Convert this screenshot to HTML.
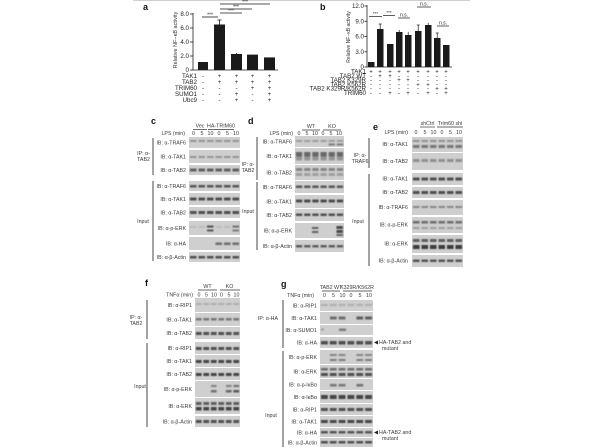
<!DOCTYPE html>
<html><head><meta charset="utf-8"><style>
html,body{margin:0;padding:0;background:#fff;}
svg{display:block;}
text{font-family:"Liberation Sans",Arial,sans-serif;fill:#3a3a3a;}
.l{font-size:5.3px;text-anchor:end;}
.c{font-size:5.3px;text-anchor:middle;}
.s{font-size:6px;text-anchor:middle;fill:#222;}
.t{font-size:6.2px;text-anchor:end;fill:#222;}
.p{font-size:9px;font-weight:bold;fill:#111;}
.bg{fill:#cfcfcf;}
</style></head><body>
<svg width="600" height="447" viewBox="0 0 600 447" xmlns="http://www.w3.org/2000/svg">
<defs>
<filter id="bl" x="-5%" y="-50%" width="110%" height="200%"><feGaussianBlur stdDeviation="0.55"/></filter>
<pattern id="pc" patternUnits="userSpaceOnUse" x="189" y="0" width="8.5" height="1000"><rect x="1" y="0" width="6.5" height="1000" fill="#2e2e2e"/></pattern>
<pattern id="pd" patternUnits="userSpaceOnUse" x="295" y="0" width="8.17" height="1000"><rect x="1" y="0" width="6.2" height="1000" fill="#2e2e2e"/></pattern>
<pattern id="pe" patternUnits="userSpaceOnUse" x="412" y="0" width="8.5" height="1000"><rect x="1" y="0" width="6.5" height="1000" fill="#2e2e2e"/></pattern>
<pattern id="pf" patternUnits="userSpaceOnUse" x="195" y="0" width="7.5" height="1000"><rect x="0.9" y="0" width="5.7" height="1000" fill="#2e2e2e"/></pattern>
<pattern id="pg" patternUnits="userSpaceOnUse" x="320" y="0" width="8.83" height="1000"><rect x="1" y="0" width="6.8" height="1000" fill="#2e2e2e"/></pattern>
</defs>
<rect width="600" height="447" fill="#fff"/>
<line x1="133" y1="0.5" x2="470" y2="0.5" stroke="#d0d0d0" stroke-width="1"/>

<!-- ===== Panel a ===== -->
<text class="p" x="143" y="10">a</text>
<text style="font-size:5.5px;text-anchor:middle;fill:#333" transform="translate(177,40) rotate(-90)">Relative NF−κB activity</text>
<g stroke="#222" stroke-width="0.8">
<line x1="193" y1="13" x2="193" y2="70"/>
<line x1="193" y1="70" x2="278" y2="70"/>
<line x1="190" y1="14" x2="193" y2="14"/><line x1="190" y1="28" x2="193" y2="28"/><line x1="190" y1="42" x2="193" y2="42"/><line x1="190" y1="56" x2="193" y2="56"/><line x1="190" y1="70" x2="193" y2="70"/>
</g>
<text class="t" x="189" y="16">8.0</text><text class="t" x="189" y="30">6.0</text><text class="t" x="189" y="44">4.0</text><text class="t" x="189" y="58">2.0</text><text class="t" x="189" y="72">0</text>
<g fill="#1a1a1a">
<rect x="198" y="62" width="10" height="8"/>
<rect x="214" y="24.5" width="11" height="45.5"/>
<rect x="231" y="54" width="11" height="16"/>
<rect x="247" y="54.6" width="11" height="15.4"/>
<rect x="264" y="57.4" width="11" height="12.6"/>
</g>
<g stroke="#1a1a1a" stroke-width="0.8">
<line x1="219.5" y1="20" x2="219.5" y2="25"/><line x1="217.5" y1="20" x2="221.5" y2="20"/>
<line x1="236.5" y1="53" x2="236.5" y2="54"/>
<line x1="202" y1="17" x2="218" y2="17"/>
<line x1="220" y1="13" x2="242" y2="13"/>
<line x1="220" y1="9" x2="252" y2="9"/>
<line x1="220" y1="4" x2="270" y2="4"/>
</g>
<text class="s" x="210" y="16.5" style="font-size:5px">***</text>
<text class="s" x="231" y="12.5" style="font-size:5px">***</text>
<text class="s" x="236" y="8.5" style="font-size:5px">***</text>
<text class="s" x="245" y="3.5" style="font-size:5px">***</text>
<g class="t" style="font-size:6px">
<text class="t" x="197" y="78">TAK1</text><text class="t" x="197" y="84">TAB2</text><text class="t" x="197" y="90">TRIM60</text><text class="t" x="197" y="96">SUMO1</text><text class="t" x="197" y="102">Ubc9</text>
</g>
<text class="s" x="203" y="78">-</text><text class="s" x="219.5" y="78">+</text><text class="s" x="236.5" y="78">+</text><text class="s" x="252.5" y="78">+</text><text class="s" x="269.5" y="78">+</text>
<text class="s" x="203" y="84">-</text><text class="s" x="219.5" y="84">+</text><text class="s" x="236.5" y="84">+</text><text class="s" x="252.5" y="84">+</text><text class="s" x="269.5" y="84">+</text>
<text class="s" x="203" y="90">-</text><text class="s" x="219.5" y="90">-</text><text class="s" x="236.5" y="90">-</text><text class="s" x="252.5" y="90">+</text><text class="s" x="269.5" y="90">+</text>
<text class="s" x="203" y="96">-</text><text class="s" x="219.5" y="96">-</text><text class="s" x="236.5" y="96">+</text><text class="s" x="252.5" y="96">-</text><text class="s" x="269.5" y="96">+</text>
<text class="s" x="203" y="102">-</text><text class="s" x="219.5" y="102">-</text><text class="s" x="236.5" y="102">+</text><text class="s" x="252.5" y="102">-</text><text class="s" x="269.5" y="102">+</text>

<!-- ===== Panel b ===== -->
<text class="p" x="320" y="10">b</text>
<text style="font-size:5px;text-anchor:middle;fill:#333" transform="translate(350,37) rotate(-90)">Relative NF−κB activity</text>
<g stroke="#222" stroke-width="0.8">
<line x1="367" y1="5" x2="367" y2="67"/>
<line x1="367" y1="67" x2="452" y2="67"/>
<line x1="364.5" y1="6" x2="367" y2="6"/><line x1="364.5" y1="21.3" x2="367" y2="21.3"/><line x1="364.5" y1="36.5" x2="367" y2="36.5"/><line x1="364.5" y1="51.8" x2="367" y2="51.8"/><line x1="364.5" y1="67" x2="367" y2="67"/>
</g>
<g style="font-size:5.6px">
<text class="t" x="364" y="8">12.0</text><text class="t" x="364" y="23.3">9.0</text><text class="t" x="364" y="38.5">6.0</text><text class="t" x="364" y="53.8">3.0</text><text class="t" x="364" y="69">0</text>
</g>
<g fill="#1a1a1a">
<rect x="368" y="62" width="6.5" height="5"/>
<rect x="377" y="29" width="6.5" height="38"/>
<rect x="387" y="44" width="6.5" height="23"/>
<rect x="396" y="32" width="6.5" height="35"/>
<rect x="405" y="35" width="6.5" height="32"/>
<rect x="415" y="31" width="6.5" height="36"/>
<rect x="425" y="25" width="6.5" height="42"/>
<rect x="434" y="38" width="6.5" height="29"/>
<rect x="443" y="45" width="6.5" height="22"/>
</g>
<g stroke="#1a1a1a" stroke-width="0.7">
<line x1="380.2" y1="24" x2="380.2" y2="29"/><line x1="378.7" y1="24" x2="381.7" y2="24"/>
<line x1="399.2" y1="30" x2="399.2" y2="32"/><line x1="408.2" y1="32" x2="408.2" y2="35"/>
<line x1="418.2" y1="25" x2="418.2" y2="31"/><line x1="416.7" y1="25" x2="419.7" y2="25"/>
<line x1="428.2" y1="23" x2="428.2" y2="25"/><line x1="437.2" y1="33" x2="437.2" y2="38"/><line x1="435.7" y1="33" x2="438.7" y2="33"/>
<line x1="369" y1="16.5" x2="382" y2="16.5"/>
<line x1="383" y1="15.5" x2="395" y2="15.5"/>
<line x1="398" y1="18" x2="410" y2="18"/>
<line x1="417" y1="7" x2="431" y2="7"/>
<line x1="437" y1="26" x2="449" y2="26"/>
</g>
<text class="s" x="375.5" y="15" style="font-size:4.5px">***</text>
<text class="s" x="389" y="14" style="font-size:4.5px">***</text>
<text class="s" x="404" y="16.5" style="font-size:5px">n.s.</text>
<text class="s" x="424" y="5.5" style="font-size:5px">n.s.</text>
<text class="s" x="443" y="24.5" style="font-size:5px">n.s.</text>
<g style="font-size:5px">
<text class="t" x="366" y="73.5">TAK1</text><text class="t" x="366" y="77.8">TAB2 WT</text><text class="t" x="366" y="82.1">TAB2 K329R</text><text class="t" x="366" y="86.4">TAB2 K562R</text><text class="t" x="366" y="90.7">TAB2 K329R/K562R</text><text class="t" x="366" y="95">TRIM60</text>
</g>
<g style="font-size:5px">
<text class="s" x="371" y="73.5">+</text><text class="s" x="380" y="73.5">+</text><text class="s" x="390" y="73.5">+</text><text class="s" x="399" y="73.5">+</text><text class="s" x="408" y="73.5">+</text><text class="s" x="418" y="73.5">+</text><text class="s" x="428" y="73.5">+</text><text class="s" x="437" y="73.5">+</text><text class="s" x="446" y="73.5">+</text>
<text class="s" x="371" y="77.8">-</text><text class="s" x="380" y="77.8">+</text><text class="s" x="390" y="77.8">+</text><text class="s" x="399" y="77.8">-</text><text class="s" x="408" y="77.8">-</text><text class="s" x="418" y="77.8">-</text><text class="s" x="428" y="77.8">-</text><text class="s" x="437" y="77.8">-</text><text class="s" x="446" y="77.8">-</text>
<text class="s" x="371" y="82.1">-</text><text class="s" x="380" y="82.1">-</text><text class="s" x="390" y="82.1">-</text><text class="s" x="399" y="82.1">+</text><text class="s" x="408" y="82.1">+</text><text class="s" x="418" y="82.1">-</text><text class="s" x="428" y="82.1">-</text><text class="s" x="437" y="82.1">-</text><text class="s" x="446" y="82.1">-</text>
<text class="s" x="371" y="86.4">-</text><text class="s" x="380" y="86.4">-</text><text class="s" x="390" y="86.4">-</text><text class="s" x="399" y="86.4">-</text><text class="s" x="408" y="86.4">-</text><text class="s" x="418" y="86.4">+</text><text class="s" x="428" y="86.4">+</text><text class="s" x="437" y="86.4">-</text><text class="s" x="446" y="86.4">-</text>
<text class="s" x="371" y="90.7">-</text><text class="s" x="380" y="90.7">-</text><text class="s" x="390" y="90.7">-</text><text class="s" x="399" y="90.7">-</text><text class="s" x="408" y="90.7">-</text><text class="s" x="418" y="90.7">-</text><text class="s" x="428" y="90.7">-</text><text class="s" x="437" y="90.7">+</text><text class="s" x="446" y="90.7">+</text>
<text class="s" x="371" y="95">-</text><text class="s" x="380" y="95">-</text><text class="s" x="390" y="95">+</text><text class="s" x="399" y="95">-</text><text class="s" x="408" y="95">+</text><text class="s" x="418" y="95">-</text><text class="s" x="428" y="95">+</text><text class="s" x="437" y="95">-</text><text class="s" x="446" y="95">+</text>
</g>

<!-- ===== Panel c ===== -->
<text class="p" x="151" y="124">c</text>
<text class="c" x="200" y="127.5">Vec</text><line x1="193" y1="129.5" x2="207" y2="129.5" stroke="#333" stroke-width="0.7"/>
<text class="c" x="221" y="127.5">HA-TRIM60</text><line x1="208" y1="129.5" x2="234" y2="129.5" stroke="#333" stroke-width="0.7"/>
<text class="l" x="185" y="135">LPS (min)</text>
<text class="c" x="193.5" y="135">0</text><text class="c" x="202" y="135">5</text><text class="c" x="210.5" y="135">10</text><text class="c" x="219" y="135">0</text><text class="c" x="227.5" y="135">5</text><text class="c" x="236" y="135">10</text>
<g class="bg">
<rect x="189" y="137" width="51" height="11"/><rect x="189" y="150" width="51" height="13"/><rect x="189" y="165" width="51" height="10"/>
<rect x="189" y="181" width="51" height="10"/><rect x="189" y="193" width="51" height="12"/><rect x="189" y="207" width="51" height="11"/><rect x="189" y="221" width="51" height="14"/><rect x="189" y="237" width="51" height="13"/><rect x="189" y="252" width="51" height="10"/>
</g>
<g filter="url(#bl)">
<rect x="189" y="140" width="51" height="2" fill="url(#pc)" opacity="0.35"/>
<rect x="189" y="156" width="51" height="2" fill="url(#pc)" opacity="0.35"/>
<rect x="189" y="168.5" width="51" height="3" fill="url(#pc)" opacity="0.7"/>
<rect x="189" y="185" width="51" height="2.5" fill="url(#pc)" opacity="0.75"/>
<rect x="189" y="197.5" width="51" height="3" fill="url(#pc)" opacity="0.8"/>
<rect x="189" y="211" width="51" height="3" fill="url(#pc)" opacity="0.8"/>
<rect x="189" y="226" width="51" height="2" fill="url(#pc)" opacity="0.12"/>
<rect x="207" y="225.5" width="6.5" height="2" fill="#333" opacity="0.75"/><rect x="207" y="229.5" width="6.5" height="2" fill="#333" opacity="0.75"/>
<rect x="232.5" y="225.5" width="6.5" height="2" fill="#333" opacity="0.55"/><rect x="232.5" y="229.5" width="6.5" height="2" fill="#333" opacity="0.55"/>
<rect x="214.5" y="242.5" width="25.5" height="2.5" fill="url(#pc)" opacity="0.6"/>
<rect x="189" y="256" width="51" height="2.5" fill="url(#pc)" opacity="0.8"/>
</g>
<g stroke="#333" stroke-width="0.9"><line x1="153" y1="138" x2="153" y2="175"/><line x1="153" y1="181" x2="153" y2="261"/></g>
<text class="c" x="143.5" y="155">IP: α-</text><text class="c" x="143.5" y="161">TAB2</text>
<text class="c" x="143" y="223">Input</text>
<text class="l" x="186" y="144.5">IB: α-TRAF6</text><text class="l" x="186" y="158.5">IB: α-TAK1</text><text class="l" x="186" y="172">IB: α-TAB2</text>
<text class="l" x="186" y="188">IB: α-TRAF6</text><text class="l" x="186" y="201">IB: α-TAK1</text><text class="l" x="186" y="214.5">IB: α-TAB2</text><text class="l" x="186" y="230">IB: α-p-ERK</text><text class="l" x="186" y="245.5">IB: α-HA</text><text class="l" x="186" y="259">IB: α-β-Actin</text>

<!-- ===== Panel d ===== -->
<text class="p" x="248" y="124">d</text>
<text class="c" x="311" y="128">WT</text><line x1="302" y1="130" x2="320" y2="130" stroke="#333" stroke-width="0.7"/>
<text class="c" x="332" y="128">KO</text><line x1="323" y1="130" x2="341" y2="130" stroke="#333" stroke-width="0.7"/>
<text class="l" x="293" y="135">LPS (min)</text>
<text class="c" x="299" y="135">0</text><text class="c" x="307" y="135">5</text><text class="c" x="315" y="135">10</text><text class="c" x="323" y="135">0</text><text class="c" x="331" y="135">5</text><text class="c" x="339" y="135">10</text>
<g class="bg">
<rect x="295" y="136" width="49" height="11"/><rect x="295" y="148" width="49" height="16"/><rect x="295" y="165" width="49" height="15"/>
<rect x="295" y="181" width="49" height="12"/><rect x="295" y="195" width="49" height="13"/><rect x="295" y="209" width="49" height="12"/><rect x="295" y="223" width="49" height="15"/><rect x="295" y="240" width="49" height="12"/>
</g>
<g filter="url(#bl)">
<rect x="295" y="140" width="49" height="2" fill="url(#pd)" opacity="0.3"/>
<rect x="327.7" y="143.5" width="16" height="2" fill="url(#pd)" opacity="0.5"/>
<rect x="295" y="152" width="49" height="4.5" fill="url(#pd)" opacity="0.65"/>
<rect x="295" y="156.5" width="49" height="4" fill="url(#pd)" opacity="0.35"/>
<rect x="295" y="168" width="49" height="3" fill="url(#pd)" opacity="0.45"/>
<rect x="295" y="173" width="49" height="3" fill="url(#pd)" opacity="0.3"/>
<rect x="295" y="185.5" width="49" height="2.5" fill="url(#pd)" opacity="0.75"/>
<rect x="295" y="199.5" width="49" height="3" fill="url(#pd)" opacity="0.8"/>
<rect x="295" y="213.5" width="49" height="2.5" fill="url(#pd)" opacity="0.8"/>
<rect x="312" y="227" width="6.3" height="2" fill="#333" opacity="0.7"/><rect x="312" y="231" width="6.3" height="2" fill="#333" opacity="0.7"/>
<rect x="336.5" y="226" width="6.3" height="3" fill="#333" opacity="0.85"/><rect x="336.5" y="230" width="6.3" height="3" fill="#333" opacity="0.85"/><rect x="336.5" y="234" width="6.3" height="2" fill="#333" opacity="0.7"/>
<rect x="295" y="245" width="49" height="2.5" fill="url(#pd)" opacity="0.7"/>
</g>
<g stroke="#333" stroke-width="0.9"><line x1="257" y1="137" x2="257" y2="180"/><line x1="257" y1="182" x2="257" y2="250"/></g>
<text class="c" x="248" y="166">IP: α-</text><text class="c" x="248" y="172">TAB2</text>
<text class="c" x="248" y="213">Input</text>
<text class="l" x="292" y="143.5">IB: α-TRAF6</text><text class="l" x="292" y="158">IB: α-TAK1</text><text class="l" x="292" y="174.5">IB: α-TAB2</text>
<text class="l" x="292" y="189">IB: α-TRAF6</text><text class="l" x="292" y="203.5">IB: α-TAK1</text><text class="l" x="292" y="217">IB: α-TAB2</text><text class="l" x="292" y="232.5">IB: α-p-ERK</text><text class="l" x="292" y="248">IB: α-β-Actin</text>

<!-- ===== Panel e ===== -->
<text class="p" x="373" y="130">e</text>
<text class="c" x="427.5" y="125">shCtrl</text><line x1="420" y1="127" x2="435" y2="127" stroke="#333" stroke-width="0.7"/>
<text class="c" x="450" y="125">Trim60 shi</text><line x1="437" y1="127" x2="463" y2="127" stroke="#333" stroke-width="0.7"/>
<text class="l" x="408" y="134">LPS (min)</text>
<text class="c" x="416" y="134">0</text><text class="c" x="425" y="134">5</text><text class="c" x="433.5" y="134">10</text><text class="c" x="442" y="134">0</text><text class="c" x="450.5" y="134">5</text><text class="c" x="459" y="134">10</text>
<g class="bg">
<rect x="412" y="137" width="51" height="15"/><rect x="412" y="153" width="51" height="17"/>
<rect x="412" y="173" width="51" height="12"/><rect x="412" y="187" width="51" height="11"/><rect x="412" y="200" width="51" height="15"/><rect x="412" y="217" width="51" height="16"/><rect x="412" y="235" width="51" height="18"/><rect x="412" y="255" width="51" height="12"/>
</g>
<g filter="url(#bl)">
<rect x="412" y="140" width="51" height="2" fill="url(#pe)" opacity="0.4"/>
<rect x="412" y="145" width="51" height="3" fill="url(#pe)" opacity="0.55"/>
<rect x="412" y="159" width="51" height="3" fill="url(#pe)" opacity="0.4"/>
<rect x="412" y="177.5" width="51" height="3" fill="url(#pe)" opacity="0.8"/>
<rect x="412" y="191" width="51" height="3" fill="url(#pe)" opacity="0.8"/>
<rect x="412" y="206" width="51" height="2" fill="url(#pe)" opacity="0.45"/>
<rect x="412" y="221" width="51" height="2.5" fill="url(#pe)" opacity="0.6"/>
<rect x="412" y="227" width="51" height="2" fill="url(#pe)" opacity="0.3"/>
<rect x="412" y="239" width="51" height="3" fill="url(#pe)" opacity="0.7"/>
<rect x="412" y="245" width="51" height="4" fill="url(#pe)" opacity="0.9"/>
<rect x="412" y="259.5" width="51" height="2.5" fill="url(#pe)" opacity="0.75"/>
</g>
<g stroke="#333" stroke-width="0.9"><line x1="369" y1="138" x2="369" y2="168"/><line x1="369" y1="174" x2="369" y2="266"/></g>
<text class="c" x="360" y="157">IP: α-</text><text class="c" x="360" y="163">TRAF6</text>
<text class="c" x="358" y="223">Input</text>
<text class="l" x="408" y="146">IB: α-TAK1</text><text class="l" x="408" y="163">IB: α-TAB2</text>
<text class="l" x="408" y="180.5">IB: α-TAK1</text><text class="l" x="408" y="194">IB: α-TAB2</text><text class="l" x="408" y="209">IB: α-TRAF6</text><text class="l" x="408" y="226.5">IB: α-p-ERK</text><text class="l" x="408" y="245.5">IB: α-ERK</text><text class="l" x="408" y="262.5">IB: α-β-Actin</text>

<!-- ===== Panel f ===== -->
<text class="p" x="145" y="286">f</text>
<text class="c" x="207.5" y="288">WT</text><line x1="198" y1="290" x2="217" y2="290" stroke="#333" stroke-width="0.7"/>
<text class="c" x="229.5" y="288">KO</text><line x1="220" y1="290" x2="240" y2="290" stroke="#333" stroke-width="0.7"/>
<text class="l" x="193" y="296.5">TNFα (min)</text>
<text class="c" x="199" y="296.5">0</text><text class="c" x="206.5" y="296.5">5</text><text class="c" x="214" y="296.5">10</text><text class="c" x="221.5" y="296.5">0</text><text class="c" x="229" y="296.5">5</text><text class="c" x="236.5" y="296.5">10</text>
<g class="bg">
<rect x="195" y="298" width="45" height="14"/><rect x="195" y="313" width="45" height="13"/><rect x="195" y="327" width="45" height="12"/>
<rect x="195" y="342" width="45" height="12"/><rect x="195" y="355" width="45" height="12"/><rect x="195" y="368" width="45" height="12"/><rect x="195" y="381" width="45" height="16"/><rect x="195" y="398" width="45" height="16"/><rect x="195" y="416" width="45" height="11"/>
</g>
<g filter="url(#bl)">
<rect x="195" y="303" width="45" height="2" fill="url(#pf)" opacity="0.2"/>
<rect x="195" y="318" width="45" height="2.5" fill="url(#pf)" opacity="0.55"/>
<rect x="195" y="332" width="45" height="3" fill="url(#pf)" opacity="0.8"/>
<rect x="195" y="347" width="45" height="3" fill="url(#pf)" opacity="0.8"/>
<rect x="195" y="360" width="45" height="3" fill="url(#pf)" opacity="0.85"/>
<rect x="195" y="373" width="45" height="3" fill="url(#pf)" opacity="0.85"/>
<rect x="210.9" y="385" width="5.7" height="2" fill="#333" opacity="0.5"/><rect x="210.9" y="390" width="5.7" height="2.5" fill="#333" opacity="0.6"/>
<rect x="225.9" y="385" width="5.7" height="2" fill="#333" opacity="0.5"/><rect x="225.9" y="390" width="5.7" height="2.5" fill="#333" opacity="0.65"/>
<rect x="233.4" y="385" width="5.7" height="2" fill="#333" opacity="0.6"/><rect x="233.4" y="390" width="5.7" height="2.5" fill="#333" opacity="0.75"/>
<rect x="195" y="402" width="45" height="3" fill="url(#pf)" opacity="0.7"/>
<rect x="195" y="407" width="45" height="3.5" fill="url(#pf)" opacity="0.85"/>
<rect x="195" y="420" width="45" height="3" fill="url(#pf)" opacity="0.8"/>
</g>
<g stroke="#333" stroke-width="0.9"><line x1="147" y1="300" x2="147" y2="339"/><line x1="147" y1="343" x2="147" y2="427"/></g>
<text class="c" x="136" y="319">IP: α-</text><text class="c" x="136" y="325">TAB2</text>
<text class="c" x="140" y="388">Input</text>
<text class="l" x="192" y="307">IB: α-RIP1</text><text class="l" x="192" y="321.5">IB: α-TAK1</text><text class="l" x="192" y="335">IB: α-TAB2</text>
<text class="l" x="192" y="350">IB: α-RIP1</text><text class="l" x="192" y="363">IB: α-TAK1</text><text class="l" x="192" y="376">IB: α-TAB2</text><text class="l" x="192" y="391">IB: α-p-ERK</text><text class="l" x="192" y="408">IB: α-ERK</text><text class="l" x="192" y="423.5">IB: α-β-Actin</text>

<!-- ===== Panel g ===== -->
<text class="p" x="281" y="287">g</text>
<text class="c" x="331" y="289">TAB2 WT</text><line x1="322" y1="291" x2="340" y2="291" stroke="#333" stroke-width="0.7"/>
<text class="c" x="357" y="289">K329R/K562R</text><line x1="343" y1="291" x2="372" y2="291" stroke="#333" stroke-width="0.7"/>
<text class="l" x="314" y="297">TNFα (min)</text>
<text class="c" x="324.5" y="297">0</text><text class="c" x="333.5" y="297">5</text><text class="c" x="342.5" y="297">10</text><text class="c" x="351" y="297">0</text><text class="c" x="360" y="297">5</text><text class="c" x="369" y="297">10</text>
<g class="bg">
<rect x="320" y="300" width="53" height="11"/><rect x="320" y="312" width="53" height="12"/><rect x="320" y="325" width="53" height="10"/><rect x="320" y="337" width="53" height="11"/>
<rect x="320" y="350" width="53" height="14"/><rect x="320" y="365" width="53" height="13"/><rect x="320" y="379" width="53" height="11"/><rect x="320" y="391" width="53" height="12"/><rect x="320" y="404" width="53" height="11"/><rect x="320" y="416" width="53" height="11"/><rect x="320" y="428" width="53" height="9"/><rect x="320" y="438" width="53" height="9"/>
</g>
<g filter="url(#bl)">
<rect x="320" y="304" width="53" height="2" fill="url(#pg)" opacity="0.2"/>
<rect x="329.8" y="316.5" width="17" height="3" fill="url(#pg)" opacity="0.6"/>
<rect x="356.3" y="316.5" width="17" height="3" fill="url(#pg)" opacity="0.7"/>
<rect x="339" y="328.5" width="7" height="2.5" fill="#333" opacity="0.55"/>
<rect x="321" y="328.5" width="3" height="2" fill="#333" opacity="0.3"/>
<rect x="320" y="341" width="53" height="3.5" fill="url(#pg)" opacity="0.8"/>
<rect x="329.8" y="354" width="17" height="2" fill="url(#pg)" opacity="0.45"/>
<rect x="329.8" y="359" width="17" height="2" fill="url(#pg)" opacity="0.5"/>
<rect x="356.3" y="354" width="17" height="2" fill="url(#pg)" opacity="0.45"/>
<rect x="356.3" y="359" width="17" height="2" fill="url(#pg)" opacity="0.5"/>
<rect x="320" y="368" width="53" height="2.5" fill="url(#pg)" opacity="0.6"/>
<rect x="320" y="373" width="53" height="3" fill="url(#pg)" opacity="0.8"/>
<rect x="329.8" y="384" width="17" height="2.5" fill="url(#pg)" opacity="0.55"/>
<rect x="356.3" y="384" width="8.5" height="2.5" fill="url(#pg)" opacity="0.6"/>
<rect x="320" y="395" width="53" height="4" fill="url(#pg)" opacity="0.85"/>
<rect x="320" y="408" width="53" height="3" fill="url(#pg)" opacity="0.8"/>
<rect x="320" y="420" width="53" height="3" fill="url(#pg)" opacity="0.85"/>
<rect x="320" y="431" width="53" height="2.5" fill="url(#pg)" opacity="0.75"/>
<rect x="320" y="441" width="53" height="2.5" fill="url(#pg)" opacity="0.8"/>
</g>
<g stroke="#333" stroke-width="0.9"><line x1="283" y1="300" x2="283" y2="348"/><line x1="283" y1="351" x2="283" y2="447"/></g>
<text class="l" x="278" y="320">IP: α-HA</text>
<text class="c" x="271" y="417">Input</text>
<text class="l" x="317" y="307.5">IB: α-RIP1</text><text class="l" x="317" y="320">IB: α-TAK1</text><text class="l" x="317" y="332">IB: α-SUMO1</text><text class="l" x="317" y="344.5">IB: α-HA</text>
<text class="l" x="317" y="359">IB: α-p-ERK</text><text class="l" x="317" y="373.5">IB: α-ERK</text><text class="l" x="317" y="386.5">IB: α-p-IκBα</text><text class="l" x="317" y="399">IB: α-IκBα</text><text class="l" x="317" y="411.5">IB: α-RIP1</text><text class="l" x="317" y="423.5">IB: α-TAK1</text><text class="l" x="317" y="434.5">IB: α-HA</text><text class="l" x="317" y="444.5">IB: α-β-Actin</text>
<polygon points="374,342.5 378,340.5 378,344.5" fill="#222"/>
<text x="379" y="344" style="font-size:5.3px">HA-TAB2 and</text><text x="382" y="350" style="font-size:5.3px">mutant</text>
<polygon points="374,432.5 378,430.5 378,434.5" fill="#222"/>
<text x="379" y="434" style="font-size:5.3px">HA-TAB2 and</text><text x="382" y="440" style="font-size:5.3px">mutant</text>
</svg>
</body></html>
